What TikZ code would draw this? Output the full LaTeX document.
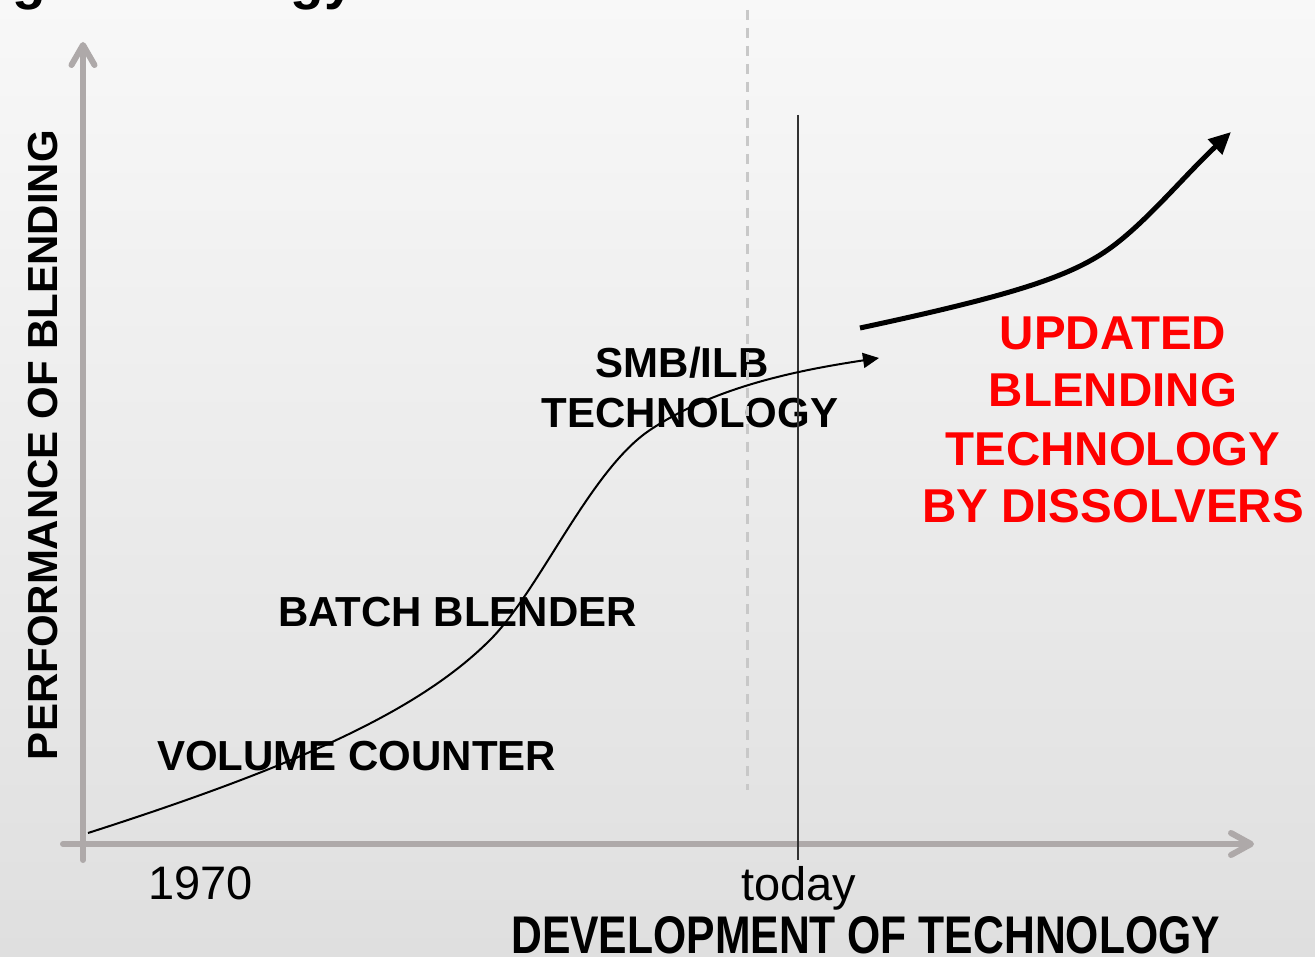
\documentclass[tikz,border=0pt]{standalone}
\usepackage{fontspec}
\setmainfont{Liberation Sans}
\usepackage{graphicx}
\usetikzlibrary{arrows.meta}
\definecolor{axisgray}{RGB}{174,169,169}
\definecolor{dashgray}{RGB}{200,200,200}
\definecolor{bgtop}{RGB}{248,248,248}
\definecolor{bgbot}{RGB}{223,223,223}
\definecolor{redtxt}{RGB}{255,0,0}
\definecolor{todayline}{RGB}{50,50,50}
\begin{document}
\begin{tikzpicture}[x=1pt,y=-1pt,
  axis/.style={draw=axisgray,line width=6pt,line cap=round,line join=round},
  lbl/.style={inner sep=0pt,font=\bfseries\fontsize{42}{50}\selectfont,anchor=base west},
  ctrlbl/.style={inner sep=0pt,font=\bfseries\fontsize{42}{50}\selectfont,anchor=base},
  redlbl/.style={inner sep=0pt,font=\bfseries\fontsize{47.5}{57}\selectfont,text=redtxt,anchor=base},
  ticklbl/.style={inner sep=0pt,font=\fontsize{47}{56}\selectfont,anchor=base west}]
\useasboundingbox (0,0) rectangle (1315,957);
\clip (0,0) rectangle (1315,957);
\shade[top color=bgtop,bottom color=bgbot] (0,0) rectangle (1315,957);

% clipped title
\node[inner sep=0pt,anchor=base west,font=\bfseries\fontsize{55}{60}\selectfont] (title) at (-189,-1) {Blending technology};

% labels
\node[lbl] (vol) at (157,770) {VOLUME COUNTER};
\node[lbl] (batch) at (278,626) {BATCH BLENDER};
\node[ctrlbl] (smb) at (682,378) {SMB/ILB};
\node[ctrlbl] (smbtech) at (690,428) {TECHNOLOGY};
\node[redlbl] (r1) at (1113,350) {UPDATED};
\node[redlbl] (r2) at (1113,407) {BLENDING};
\node[redlbl] (r3) at (1113,465) {TECHNOLOGY};
\node[redlbl] (r4) at (1113,522) {BY DISSOLVERS};
\node[ctrlbl,rotate=90] (ylab) at (57,445) {PERFORMANCE OF BLENDING};
\node[inner sep=0pt,anchor=base west,font=\bfseries\fontsize{53}{60}\selectfont] (xlab) at (511,953) {\scalebox{0.805}[1]{DEVELOPMENT OF TECHNOLOGY}};
\node[ticklbl] (y1970) at (148,899) {1970};
\node[ticklbl] (today) at (741,900) {today};

% axes
\draw[axis] (83,860) -- (83,47);
\draw[axis] (71.5,65) -- (83,45) -- (94.5,65);
\draw[axis] (63,844) -- (1249,844);
\draw[axis] (1231,833) -- (1251,844) -- (1231,855);

% reference lines
\draw[dashgray,line width=3pt,dash pattern=on 10pt off 8pt] (747,10) -- (747,790);
\draw[todayline,line width=1.3pt] (798,115) -- (798,860);

% S-curve
\draw[black,line width=2pt,-{Triangle[length=16pt,width=15pt]}]
  (88,833) .. controls (300,765) and (420,710) .. (490,640)
  .. controls (540,590) and (590,470) .. (650,430)
  .. controls (716,386) and (800,370) .. (879,358);

% thick curve
\draw[black,line width=5pt,-{Triangle[length=22pt,width=20pt]}]
  (860,328) .. controls (1000,298) and (1060,280) .. (1100,255)
  .. controls (1140,230) and (1180,180) .. (1231,132);
\end{tikzpicture}
\end{document}
